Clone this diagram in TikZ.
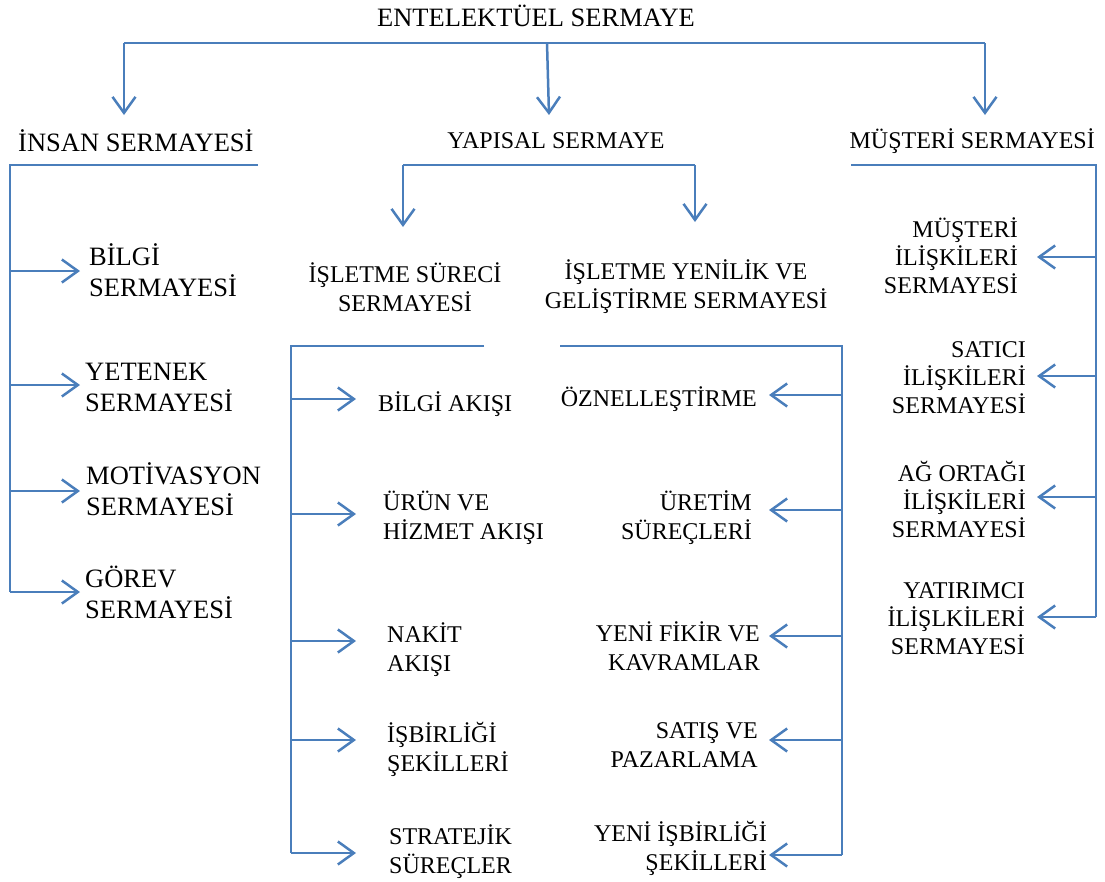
\documentclass[tikz,border=0pt]{standalone}
\usepackage{fontspec}
\setmainfont{Liberation Serif}
\usetikzlibrary{arrows.meta}
\definecolor{lineblue}{HTML}{4A7EBB}
\begin{document}
\begin{tikzpicture}[x=1pt,y=-1pt,
  conn/.style={draw=lineblue, line width=2.5pt},
  arr/.style={conn, -{Straight Barb[length=16pt,width=23pt]}},
  lbl/.style={font=\fontsize{24}{29}\selectfont, inner sep=0pt, text=black},
  big/.style={font=\fontsize{26.5}{31}\selectfont},
  tight/.style={font=\fontsize{24}{28}\selectfont},
  lft/.style={lbl, anchor=west, align=left},
  rgt/.style={lbl, anchor=east, align=right}]
\useasboundingbox (0,0) rectangle (1105,881);

% ---- top level
\node[lbl, big] (root) at (536,16) {ENTELEKTÜEL SERMAYE};
\node[lft, big] (insan) at (18,141) {İNSAN SERMAYESİ};
\node[lbl] (yapisal) at (556,141) {YAPISAL SERMAYE};
\node[rgt] (musteri) at (1095,141) {MÜŞTERİ SERMAYESİ};

\coordinate (t1) at (124,43);
\coordinate (t2) at (547,43);
\coordinate (t3) at (985,43);
\coordinate (a1) at (124,115);
\coordinate (a2) at (549,115);
\coordinate (a3) at (985,115);
\draw[conn] (t1) -- (t3);
\draw[arr] (t1) -- (a1);
\draw[arr] (t2) -- (a2);
\draw[arr] (t3) -- (a3);

% ---- İnsan sermayesi
\node[lft, big] (bilgi) at (89,270) {BİLGİ\\SERMAYESİ};
\node[lft, big] (yetenek) at (85,387) {YETENEK\\SERMAYESİ};
\node[lft, big] (motiv) at (86,489) {MOTİVASYON\\SERMAYESİ};
\node[lft, big] (gorev) at (85,592) {GÖREV\\SERMAYESİ};
\coordinate (ih) at (258,165);
\coordinate (ic) at (10,165);
\coordinate (ib4) at (10,592);
\coordinate (ib1) at (10,271);
\coordinate (ib2) at (10,385);
\coordinate (ib3) at (10,491);
\coordinate (itip) at (80,0);
\draw[conn] (ih) -- (ic) -- (ib4);
\draw[arr] (ib1) -- (ib1 -| itip);
\draw[arr] (ib2) -- (ib2 -| itip);
\draw[arr] (ib3) -- (ib3 -| itip);
\draw[arr] (ib4) -- (ib4 -| itip);

% ---- Yapısal sermaye
\node[lbl, align=center] (surec) at (405,287) {İŞLETME SÜRECİ\\SERMAYESİ};
\node[lbl, align=center] (yenilik) at (686,287) {İŞLETME YENİLİK VE\\GELİŞTİRME SERMAYESİ};
\coordinate (yh1) at (403,165);
\coordinate (yh2) at (695,165);
\coordinate (ya1) at (403,227);
\coordinate (ya2) at (695,222);
\draw[conn] (yh1) -- (yh2);
\draw[arr] (yh1) -- (ya1);
\draw[arr] (yh2) -- (ya2);

% ---- İşletme süreci alt dalları
\node[lft] (bakis) at (378,404) {BİLGİ AKIŞI};
\node[lft] (urun) at (383,518) {ÜRÜN VE\\HİZMET AKIŞI};
\node[lft] (nakit) at (387,650) {NAKİT\\AKIŞI};
\node[lft] (isbir) at (387,749) {İŞBİRLİĞİ\\ŞEKİLLERİ};
\node[lft] (strat) at (389,852) {STRATEJİK\\SÜREÇLER};
\coordinate (sh) at (484,346);
\coordinate (sc) at (291,346);
\coordinate (sb1) at (291,399);
\coordinate (sb2) at (291,514);
\coordinate (sb3) at (291,641);
\coordinate (sb4) at (291,740);
\coordinate (sb5) at (291,853);
\coordinate (stip) at (356,0);
\draw[conn] (sh) -- (sc) -- (sb5);
\draw[arr] (sb1) -- (sb1 -| stip);
\draw[arr] (sb2) -- (sb2 -| stip);
\draw[arr] (sb3) -- (sb3 -| stip);
\draw[arr] (sb4) -- (sb4 -| stip);
\draw[arr] (sb5) -- (sb5 -| stip);

% ---- Yenilik alt dalları
\node[rgt] (ozn) at (757,399) {ÖZNELLEŞTİRME};
\node[rgt] (uretim) at (752,518) {ÜRETİM\\SÜREÇLERİ};
\node[rgt] (fikir) at (760,646) {YENİ FİKİR VE\\KAVRAMLAR};
\node[rgt] (satis) at (758,745) {SATIŞ VE\\PAZARLAMA};
\node[rgt] (yeniis) at (767,848) {YENİ İŞBİRLİĞİ\\ŞEKİLLERİ};
\coordinate (rh) at (560,346);
\coordinate (rc) at (842,346);
\coordinate (rb1) at (842,395);
\coordinate (rb2) at (842,510);
\coordinate (rb3) at (842,636);
\coordinate (rb4) at (842,740);
\coordinate (rb5) at (842,855);
\coordinate (rtip) at (769,0);
\draw[conn] (rh) -- (rc) -- (rb5);
\draw[arr] (rb1) -- (rb1 -| rtip);
\draw[arr] (rb2) -- (rb2 -| rtip);
\draw[arr] (rb3) -- (rb3 -| rtip);
\draw[arr] (rb4) -- (rb4 -| rtip);
\draw[arr] (rb5) -- (rb5 -| rtip);

% ---- Müşteri sermayesi
\node[rgt, tight] (mil) at (1018,256) {MÜŞTERİ\\İLİŞKİLERİ\\SERMAYESİ};
\node[rgt, tight] (sat) at (1026,378) {SATICI\\İLİŞKİLERİ\\SERMAYESİ};
\node[rgt, tight] (ago) at (1026,499) {AĞ ORTAĞI\\İLİŞKİLERİ\\SERMAYESİ};
\node[rgt, tight] (yat) at (1025,619) {YATIRIMCI\\İLİŞLKİLERİ\\SERMAYESİ};
\coordinate (mh) at (851,165);
\coordinate (mc) at (1096,165);
\coordinate (mb1) at (1096,257);
\coordinate (mb2) at (1096,376);
\coordinate (mb3) at (1096,497);
\coordinate (mb4) at (1096,617);
\coordinate (mtip) at (1037,0);
\draw[conn] (mh) -- (mc) -- (mb4);
\draw[arr] (mb1) -- (mb1 -| mtip);
\draw[arr] (mb2) -- (mb2 -| mtip);
\draw[arr] (mb3) -- (mb3 -| mtip);
\draw[arr] (mb4) -- (mb4 -| mtip);
\end{tikzpicture}
\end{document}
